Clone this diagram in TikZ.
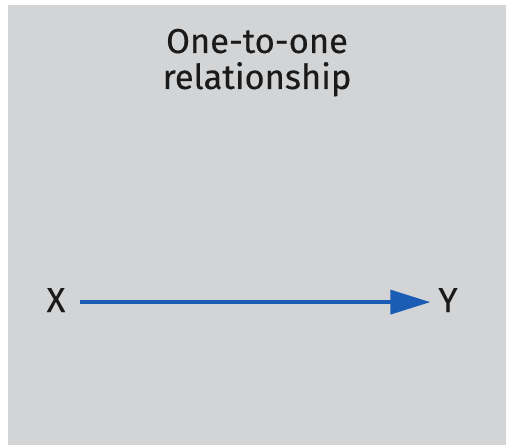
\documentclass[tikz,border=0pt]{standalone}
\usepackage{fontspec}
\newfontfamily\lblfont{Fira Sans}[FakeBold=0.3]
\usetikzlibrary{arrows.meta}
\definecolor{bg}{HTML}{D3D4D6}
\definecolor{arrowblue}{HTML}{1B5DB5}
\definecolor{txt}{HTML}{1A1A1A}
\begin{document}
\begin{tikzpicture}[x=1pt,y=-1pt,
  lbl/.style={inner sep=0pt, text=txt, font=\lblfont\fontsize{34.5}{36}\selectfont},
  link/.style={draw=arrowblue, line width=3.6pt, -{Triangle[length=40pt,width=24pt]}}]
\useasboundingbox (0,0) rectangle (508,446);
\fill[bg] (8,5) rectangle (506,445);
\node[lbl, align=center, anchor=base] (title) at (257,89) {One-to-one\\relationship};
\node[lbl, anchor=base] (X) at (56,312) {X};
\node[lbl, anchor=base] (Y) at (448,312) {Y};
\draw[link, shorten <=14pt, shorten >=8pt] ([yshift=-2pt]X.east) -- ([yshift=-2pt]Y.west);
\end{tikzpicture}
\end{document}
